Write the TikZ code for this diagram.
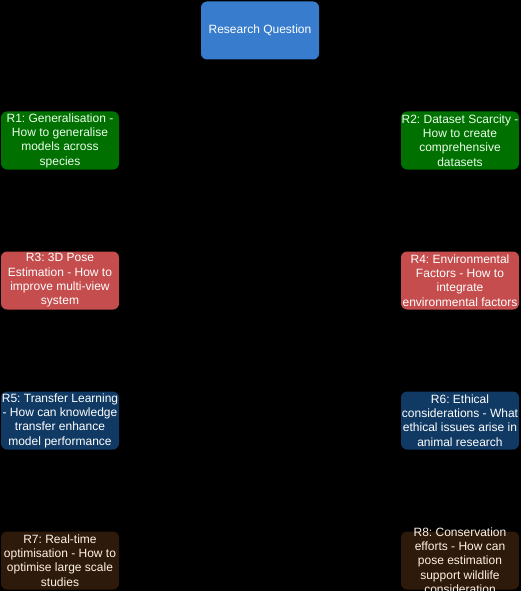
\documentclass[tikz,border=0pt]{standalone}
\usepackage{fontspec}
\setmainfont{Liberation Sans}
\frenchspacing
\usetikzlibrary{positioning}
\definecolor{rqblue}{HTML}{387DCD}
\definecolor{rgreen}{HTML}{007000}
\definecolor{rred}{HTML}{C54D4D}
\definecolor{rnavy}{HTML}{103A64}
\definecolor{rbrown}{HTML}{2E1A0B}
\begin{document}
\begin{tikzpicture}[x=1pt,y=-1pt,
    rbox/.style={rounded corners=6pt,minimum width=118pt,minimum height=58pt,
      align=center,inner sep=0pt,
      font=\fontsize{12}{14.3}\selectfont},
    green box/.style={rbox,fill=rgreen,text=green!8!white},
    red box/.style={rbox,fill=rred,text=white},
    navy box/.style={rbox,fill=rnavy,text=white},
    brown box/.style={rbox,fill=rbrown,text=orange!10!white}]
    \fill[black] (0,0) rectangle (521,591);
    \clip (0,0) rectangle (521,591);
    \node[rbox,fill=rqblue,text=white] (rq) at (260,30.5) {Research Question};
    %%
    \node[green box] (r1) at (60,140.5) {R1: Generalisation -\\How to generalise\\models across\\species};
    \node[green box] (r2) at (460,140.5) {R2: Dataset Scarcity -\\How to create\\comprehensive\\datasets};
    %%
    \node[red box] (r3) at (60,280.5) {R3: 3D Pose\\Estimation - How to\\improve multi-view\\system};
    \node[red box] (r4) at (460,280.5) {R4: Environmental\\Factors - How to\\integrate\\environmental factors};
    %%
    \node[navy box] (r5) at (60,420.5) {R5: Transfer Learning\\- How can knowledge\\transfer enhance\\model performance};
    \node[navy box] (r6) at (460,420.5) {R6: Ethical\\considerations - What\\ethical issues arise in\\animal research};
    %%
    \node[brown box] (r7) at (60,560.5) {R7: Real-time\\optimisation - How to\\optimise large scale\\studies};
    \node[brown box,inner ysep=-7pt] (r8) at (460,560.5) {R8: Conservation\\efforts - How can\\pose estimation\\support wildlife\\consideration};
\end{tikzpicture}
\end{document}
